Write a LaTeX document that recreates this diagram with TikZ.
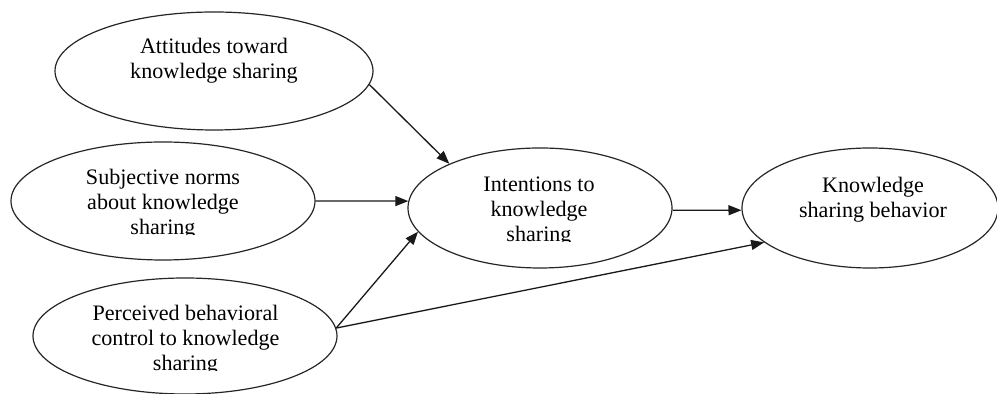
\documentclass[tikz,border=0pt]{standalone}
\usepackage{fontspec}
\setmainfont{Liberation Serif}
\usetikzlibrary{shapes.geometric,arrows.meta}
\begin{document}
\begin{tikzpicture}[x=0.5pt,y=-0.5pt,
  oval/.style={draw=black!85, line width=0.6pt, ellipse, inner sep=0pt},
  lbl/.style={align=center, inner sep=0pt, font=\fontsize{11.05pt}{12.5pt}\selectfont},
  conn/.style={draw=black!90, line width=0.65pt, -{Triangle[length=6.5pt,width=5pt]}}]
\useasboundingbox[fill=white] (0,0) rectangle (997,394);

% ellipses
\node[oval, minimum width=159pt, minimum height=59pt] (A) at (214,71) {};
\node[oval, minimum width=152pt, minimum height=59pt] (S) at (163,201) {};
\node[oval, minimum width=152pt, minimum height=58pt] (P) at (185,336) {};
\node[oval, minimum width=132pt, minimum height=60pt] (I) at (540,208) {};
\node[oval, minimum width=128pt, minimum height=60pt] (K) at (870,208) {};

% labels
\node[lbl] (At) at (214,60.5) {Attitudes toward\\knowledge sharing};
\begin{scope}
  \clip (20,150) rectangle (310,235);
  \node[lbl] (St) at (163,204) {Subjective norms\\about knowledge\\sharing};
\end{scope}
\begin{scope}
  \clip (40,285) rectangle (330,371);
  \node[lbl] (Pt) at (185.5,340) {Perceived behavioral\\control to knowledge\\sharing};
\end{scope}
\begin{scope}
  \clip (415,155) rectangle (665,242);
  \node[lbl] (It) at (539,212) {Intentions to\\knowledge\\sharing};
\end{scope}
\node[lbl] (Kt) at (873,200) {Knowledge\\sharing behavior};

% connectors
\draw[conn] (A.-5) -- (I.154);
\draw[conn] (S.0) -- (I.177);
\draw[conn] (P.3) -- (I.191);
\draw[conn] (P.3) -- (K.198);
\draw[conn] (I.-1) -- (K.181);
\end{tikzpicture}
\end{document}
